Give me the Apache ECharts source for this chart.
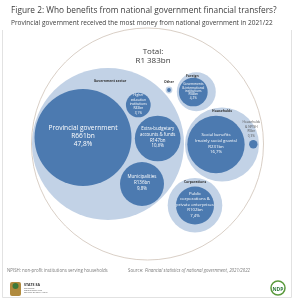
<!DOCTYPE html>
<html><head><meta charset="utf-8">
<script src="https://cdn.jsdelivr.net/npm/echarts@6/dist/echarts.min.js"></script>
<style>html,body{margin:0;padding:0;background:#fff}#c{width:295px;height:300px}</style>
</head><body><div id="c"></div>
<script>
// ---------- data ----------
const totalLabel = 'R1 383bn';
const groupNames = ['Government sector', 'Other', 'Foreign', 'Households', 'Corporations'];
const leafNames = [
  'Provincial government',
  'Higher\neducation\ninstitutions',
  'Extra-budgetary\naccounts & funds',
  'Municipalities',
  'Other',
  'Governments\n& international\ninstitutions',
  'Social benefits\n(mainly social grants)',
  'Households\n& NPISH',
  'Public\ncorporations &\nprivate enterprises'
];
const leafGroup = [0, 0, 0, 0, 1, 2, 3, 3, 4];
const leafValues = [661, 43, 147, 136, 1, 58, 231, 5, 102];      // R billion
const leafShares = [47.8, 3.1, 10.6, 9.8, 0.1, 4.2, 16.7, 0.3, 7.4]; // %

// ---------- layout (packing positions, chart units) ----------
const outerLayout = { x: 147.5, y: 144, r: 116 };
const groupLayout = [
  { x: 108, y: 144, r: 76, labelDy: 13.5 },
  { x: 169, y: 90, r: 3.4, labelDy: -5 },
  { x: 196.3, y: 91.7, r: 19.5, labelDy: 4 },
  { x: 222, y: 144.5, r: 37, labelDy: 4 },
  { x: 195, y: 205.3, r: 27.3, labelDy: 4.5 }
];
const leafLayout = [
  { x: 83, y: 137.5, fs: 6.6, lh: 8 },
  { x: 138.3, y: 105, fs: 3.3, lh: 4.3 },
  { x: 157.7, y: 138.5, fs: 4.4, lh: 5.8 },
  { x: 142, y: 184, fs: 4.5, lh: 5.8 },
  { x: 169, y: 90, fs: 0, lh: 0 },
  { x: 193.3, y: 92, fs: 3.2, lh: 3.4 },
  { x: 216, y: 144.5, fs: 4.3, lh: 5.7 },
  { x: 253.3, y: 144.3, fs: 3.2, lh: 4.5, outside: true },
  { x: 195, y: 205.5, fs: 4.3, lh: 5.6 }
];
const radiusPerRootBn = 1.886; // area-proportional scale

const FONT = '"Open Sans", "Noto Sans", sans-serif';
const DARK = '#4c7ab0';
const LIGHT = '#c2d2e6';

function fmtShare(s) { return s.toFixed(1).replace('.', ',') + '%'; }
function leafText(i) {
  return leafNames[i] + '\nR' + leafValues[i] + 'bn\n' + fmtShare(leafShares[i]);
}

const leafData = leafValues.map((v, i) => [leafLayout[i].x, leafLayout[i].y, radiusPerRootBn * Math.sqrt(v)]);
const groupData = groupLayout.map(g => [g.x, g.y, g.r]);

const chart = echarts.init(document.getElementById('c'), null, { renderer: 'canvas' });
chart.setOption({
  animation: false,
  backgroundColor: '#fff',
  title: [
    { text: 'Figure 2: Who benefits from national government financial transfers?', left: 6, top: 2,
      textStyle: { fontFamily: FONT, fontSize: 8.3, fontWeight: 'normal', color: '#3c3c3c' } },
    { text: 'Provincial government received the most money from national government in 2021/22', left: 6, top: 14.5,
      textStyle: { fontFamily: FONT, fontSize: 6.5, fontWeight: 'normal', color: '#3c3c3c' } }
  ],
  grid: { left: 0, top: 0, width: 295, height: 300 },
  xAxis: { type: 'value', min: 0, max: 295, show: false },
  yAxis: { type: 'value', min: 0, max: 300, inverse: true, show: false },
  series: [
    {
      type: 'custom', coordinateSystem: 'cartesian2d', silent: true,
      data: [[outerLayout.x, outerLayout.y, outerLayout.r]],
      renderItem(params, api) {
        const c = api.coord([api.value(0), api.value(1)]);
        const r = api.size([api.value(2), 0])[0];
        return { type: 'group', children: [
          { type: 'circle', shape: { cx: c[0], cy: c[1], r: r }, style: { fill: '#fff', stroke: '#cfc3b8', lineWidth: 0.8 } },
          { type: 'text', x: c[0] + 5.5, y: c[1] - r + 18.5, style: { text: 'Total:\n' + totalLabel, align: 'center', verticalAlign: 'top',
            font: '8px ' + FONT, lineHeight: 9.5, fill: '#3c3c3c' } }
        ] };
      }
    },
    {
      type: 'custom', coordinateSystem: 'cartesian2d', silent: true,
      data: groupData,
      renderItem(params, api) {
        const i = params.dataIndex;
        const c = api.coord([api.value(0), api.value(1)]);
        const r = api.size([api.value(2), 0])[0];
        const g = groupLayout[i];
        return { type: 'group', children: [
          { type: 'circle', shape: { cx: c[0], cy: c[1], r: r }, style: { fill: LIGHT } },
          { type: 'text', x: c[0] + (i === 0 ? 2 : (i === 2 ? -4 : 0)), y: c[1] - r + g.labelDy,
            style: { text: groupNames[i], align: 'center', verticalAlign: 'middle',
              font: 'bold 3.4px ' + FONT, fill: '#333' } }
        ] };
      }
    },
    {
      type: 'custom', coordinateSystem: 'cartesian2d', silent: true,
      data: leafData,
      renderItem(params, api) {
        const i = params.dataIndex;
        const c = api.coord([api.value(0), api.value(1)]);
        const r = api.size([api.value(2), 0])[0];
        const L = leafLayout[i];
        const children = [{ type: 'circle', shape: { cx: c[0], cy: c[1], r: r }, style: { fill: DARK } }];
        if (L.fs > 0) {
          if (L.outside) {
            children.push({ type: 'text', x: c[0] - 2, y: c[1] - r - 2,
              style: { text: leafText(i), align: 'center', verticalAlign: 'bottom', font: L.fs + 'px ' + FONT, lineHeight: L.lh, fill: '#555' } });
          } else {
            children.push({ type: 'text', x: c[0], y: c[1] - 1,
              style: { text: leafText(i), align: 'center', verticalAlign: 'middle', font: L.fs + 'px ' + FONT, lineHeight: L.lh, fill: '#fff' } });
          }
        }
        return { type: 'group', children };
      }
    }
  ],
  graphic: [
    { type: 'polyline', shape: { points: [[2.5, 30], [2.5, 297.5], [291.5, 297.5], [291.5, 30]] }, style: { fill: 'none', stroke: '#e2e2e2', lineWidth: 1 }, z: -1 },
    { type: 'text', x: 7, y: 271, style: { text: 'NPISH: non-profit institutions serving households', font: '4.4px ' + FONT, fill: '#7a7a7a', verticalAlign: 'middle' } },
    { type: 'text', x: 128, y: 271, style: { text: 'Source: ', font: '4.4px ' + FONT, fill: '#7a7a7a', verticalAlign: 'middle' } },
    { type: 'text', x: 145, y: 271, style: { text: 'Financial statistics of national government, 2021/2022', font: 'italic 4.4px ' + FONT, fill: '#7a7a7a', verticalAlign: 'middle' } },
    // Stats SA logo (approximation)
    { type: 'rect', shape: { x: 10, y: 282, width: 11, height: 14, r: 2 }, style: { fill: '#b08a3e' } },
    { type: 'circle', shape: { cx: 15.5, cy: 286, r: 3 }, style: { fill: '#3d7a3a' } },
    { type: 'text', x: 24, y: 285, style: { text: 'STATS SA', font: 'bold 3.6px ' + FONT, fill: '#333', verticalAlign: 'middle' } },
    { type: 'text', x: 24, y: 290.5, style: { text: 'Department:\nStatistics South Africa\nREPUBLIC OF SOUTH AFRICA', font: '1.8px ' + FONT, lineHeight: 2.2, fill: '#555', verticalAlign: 'middle' } },
    // NDP logo (approximation)
    { type: 'circle', shape: { cx: 278, cy: 288, r: 7 }, style: { fill: '#ffffff', stroke: '#5a9a3c', lineWidth: 1.5 } },
    { type: 'text', x: 278, y: 290, style: { text: 'NDP', font: 'bold 5px ' + FONT, fill: '#2f7a3a', align: 'center', verticalAlign: 'middle' } }
  ]
});
</script></body></html>
